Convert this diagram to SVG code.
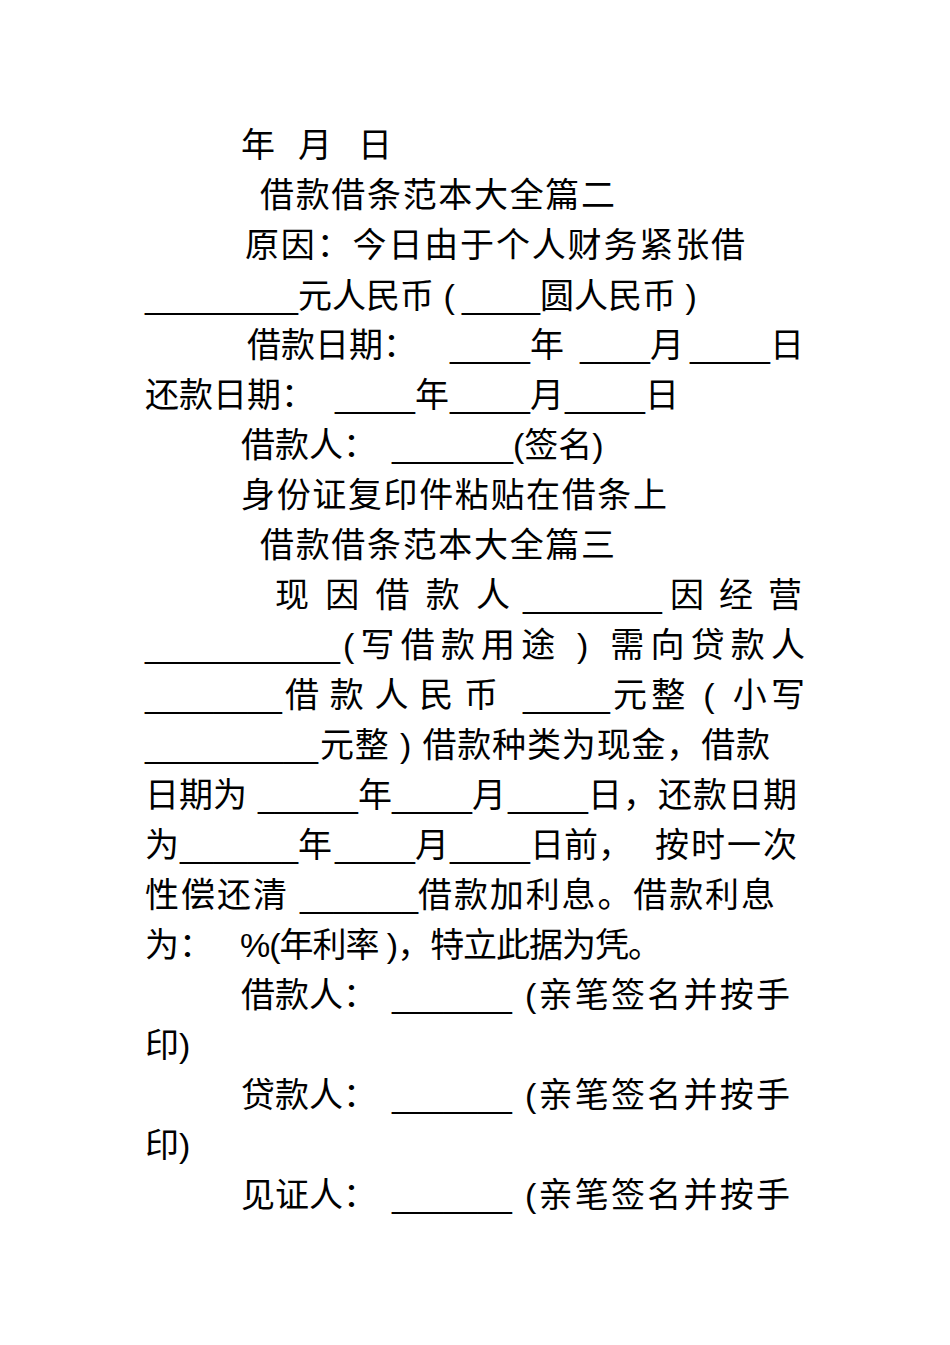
<svg xmlns="http://www.w3.org/2000/svg" width="950" height="1345" viewBox="0 0 950 1345">
<style>
text{font-family:"Liberation Sans","Noto Sans CJK SC",sans-serif;font-size:34px;fill:#000}
</style>
<rect width="950" height="1345" fill="#fff"/>
<g id="doc">
<text x="241" y="157">年</text><text x="298" y="157">月</text><text x="358" y="157">日</text>
<text x="260" y="207" textLength="355">借款借条范本大全篇二</text>
<text x="245" y="257" textLength="500">原因：今日由于个人财务紧张借</text>
<text x="145" y="308" textLength="153" lengthAdjust="spacingAndGlyphs">_________</text>
<text x="298" y="308">元人民币 (</text>
<text x="462" y="308" textLength="78" lengthAdjust="spacingAndGlyphs">____</text>
<text x="540" y="308">圆人民币 )</text>
<text x="247" y="357">借款日期：</text>
<text x="450" y="357" textLength="80" lengthAdjust="spacingAndGlyphs">_____</text><text x="530" y="357">年</text>
<text x="580" y="357" textLength="70" lengthAdjust="spacingAndGlyphs">_____</text><text x="650" y="357">月</text>
<text x="690" y="357" textLength="80" lengthAdjust="spacingAndGlyphs">_____</text><text x="770" y="357">日</text>
<text x="145" y="407">还款日期：</text>
<text x="335" y="407" textLength="80" lengthAdjust="spacingAndGlyphs">_____</text><text x="415" y="407">年</text>
<text x="450" y="407" textLength="80" lengthAdjust="spacingAndGlyphs">_____</text><text x="530" y="407">月</text>
<text x="565" y="407" textLength="80" lengthAdjust="spacingAndGlyphs">_____</text><text x="645" y="407">日</text>
<text x="241" y="457">借款人：</text>
<text x="392" y="457" textLength="121" lengthAdjust="spacingAndGlyphs">_______</text>
<text x="513" y="457">(签名)</text>
<text x="241" y="507" textLength="426">身份证复印件粘贴在借条上</text>
<text x="260" y="557" textLength="355">借款借条范本大全篇三</text>
<text x="275" y="607" textLength="235">现因借款人</text>
<text x="523" y="607" textLength="139" lengthAdjust="spacingAndGlyphs">________</text>
<text x="670" y="607" textLength="132">因经营</text>
<text x="145" y="657" textLength="195" lengthAdjust="spacingAndGlyphs">___________</text>
<text x="343" y="657" textLength="462">(写借款用途 ) 需向贷款人</text>
<text x="145" y="707" textLength="137" lengthAdjust="spacingAndGlyphs">________</text>
<text x="285" y="707" textLength="213">借款人民币</text>
<text x="523" y="707" textLength="87" lengthAdjust="spacingAndGlyphs">_____</text>
<text x="613" y="707" textLength="192">元整 ( 小写</text>
<text x="145" y="757" textLength="173" lengthAdjust="spacingAndGlyphs">__________</text>
<text x="320" y="757" textLength="450">元整 ) 借款种类为现金，借款</text>
<text x="145" y="807">日期为</text>
<text x="258" y="807" textLength="100" lengthAdjust="spacingAndGlyphs">______</text><text x="358" y="807">年</text>
<text x="392" y="807" textLength="80" lengthAdjust="spacingAndGlyphs">_____</text><text x="472" y="807">月</text>
<text x="508" y="807" textLength="80" lengthAdjust="spacingAndGlyphs">_____</text>
<text x="588" y="807" textLength="209">日，还款日期</text>
<text x="145" y="857">为</text>
<text x="180" y="857" textLength="118" lengthAdjust="spacingAndGlyphs">_______</text><text x="298" y="857">年</text>
<text x="335" y="857" textLength="80" lengthAdjust="spacingAndGlyphs">_____</text><text x="415" y="857">月</text>
<text x="450" y="857" textLength="80" lengthAdjust="spacingAndGlyphs">_____</text><text x="530" y="857">日前，</text>
<text x="655" y="857" textLength="142">按时一次</text>
<text x="145" y="907" textLength="142">性偿还清</text>
<text x="300" y="907" textLength="118" lengthAdjust="spacingAndGlyphs">_______</text>
<text x="418" y="907" textLength="357">借款加利息。借款利息</text>
<text x="145" y="957">为：</text>
<text x="240" y="957" textLength="422">%(年利率 )，特立此据为凭。</text>
<text x="241" y="1007">借款人：</text>
<text x="392" y="1007" textLength="120" lengthAdjust="spacingAndGlyphs">_______</text>
<text x="525" y="1007" textLength="265">(亲笔签名并按手</text>
<text x="145" y="1057">印)</text>
<text x="241" y="1107">贷款人：</text>
<text x="392" y="1107" textLength="120" lengthAdjust="spacingAndGlyphs">_______</text>
<text x="525" y="1107" textLength="265">(亲笔签名并按手</text>
<text x="145" y="1157">印)</text>
<text x="241" y="1207">见证人：</text>
<text x="392" y="1207" textLength="120" lengthAdjust="spacingAndGlyphs">_______</text>
<text x="525" y="1207" textLength="265">(亲笔签名并按手</text>
</g>
</svg>
